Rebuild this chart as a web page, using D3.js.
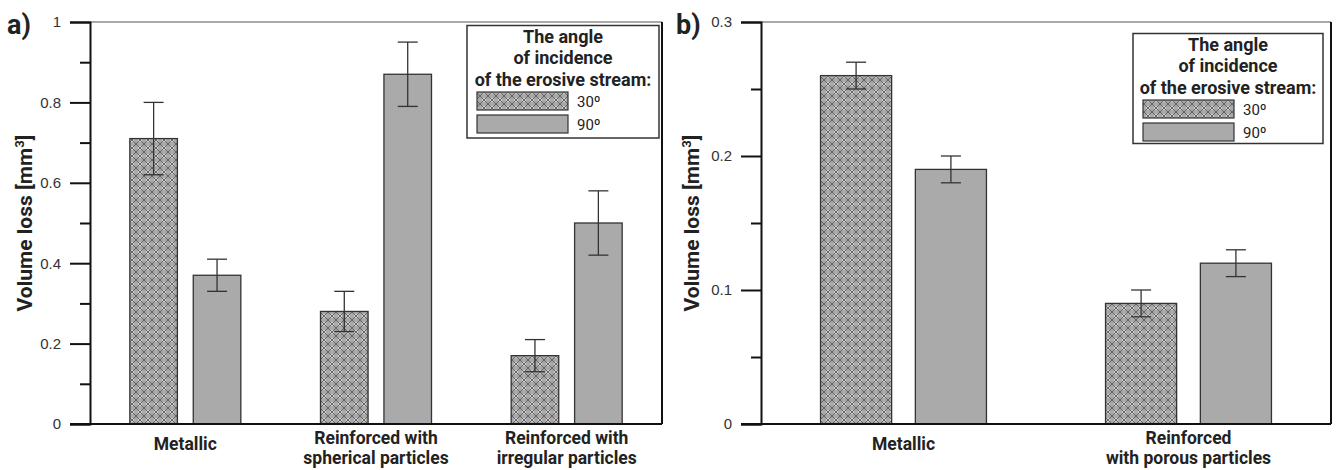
<!DOCTYPE html>
<html>
<head>
<meta charset="utf-8">
<script src="https://cdn.jsdelivr.net/npm/d3@7"></script>
<style>
  html, body { margin: 0; padding: 0; background: #fff; }
  svg { display: block; }
</style>
</head>
<body>
<svg id="chart" width="1338" height="470"></svg>
<script>
// ---------- DATA ----------
const seriesNames = ["30º", "90º"];
const legendTitle = ["The angle", "of incidence", "of the erosive stream:"];
const yTitle = "Volume loss [mm";

// Panel a
const categoriesA = [["Metallic"], ["Reinforced with", "spherical particles"], ["Reinforced with", "irregular particles"]];
const valuesA30 = [0.71, 0.28, 0.17];
const errorsA30 = [0.09, 0.05, 0.04];
const valuesA90 = [0.37, 0.87, 0.50];
const errorsA90 = [0.04, 0.08, 0.08];
const majorTicksA = [0, 0.2, 0.4, 0.6, 0.8, 1];
const minorTicksA = [0.1, 0.3, 0.5, 0.7, 0.9];
const tickLabelsA = ["0", "0.2", "0.4", "0.6", "0.8", "1"];

// Panel b
const categoriesB = [["Metallic"], ["Reinforced", "with porous particles"]];
const valuesB30 = [0.26, 0.09];
const errorsB30 = [0.01, 0.01];
const valuesB90 = [0.19, 0.12];
const errorsB90 = [0.01, 0.01];
const majorTicksB = [0, 0.1, 0.2, 0.3];
const minorTicksB = [0.05, 0.15, 0.25];
const tickLabelsB = ["0", "0.1", "0.2", "0.3"];

// ---------- DRAW ----------
const svg = d3.select("#chart");
const defs = svg.append("defs");

// crosshatch / diamond pattern for 30º
const pat = defs.append("pattern")
  .attr("id", "hatch").attr("patternUnits", "userSpaceOnUse")
  .attr("width", 8).attr("height", 8);
pat.append("rect").attr("width", 8).attr("height", 8).attr("fill", "#a8a8a8");
pat.append("circle").attr("cx", 4).attr("cy", 4).attr("r", 2.3).attr("fill", "#d0d0d0");
pat.append("path").attr("d", "M0,0 L8,8 M8,0 L0,8")
  .attr("stroke", "#5a5a5a").attr("stroke-width", 0.9).attr("fill", "none");
pat.append("path").attr("d", "M-1,7 L1,9 M7,-1 L9,1 M-1,1 L1,-1 M7,9 L9,7")
  .attr("stroke", "#5a5a5a").attr("stroke-width", 0.9).attr("fill", "none");

const fills = ["url(#hatch)", "#aaaaaa"];
const font = "Roboto, 'Liberation Sans', Arial, sans-serif";
const tickFont = "'Liberation Sans', Arial, sans-serif";

function drawPanel(cfg) {
  const g = svg.append("g");
  const y = d3.scaleLinear().domain([0, cfg.yMax]).range([424, 22]);
  const x0 = d3.scaleBand().domain(cfg.categories.map((d, i) => i)).range([cfg.left, cfg.right]);
  const x1 = d3.scaleBand().domain(seriesNames).range([0, x0.bandwidth()])
    .paddingInner(0.25).paddingOuter(0.628);

  // top border
  g.append("line").attr("x1", cfg.left).attr("x2", cfg.right)
    .attr("y1", y(cfg.yMax)).attr("y2", y(cfg.yMax))
    .attr("stroke", "#555").attr("stroke-width", 1.2);
  // right border
  g.append("line").attr("x1", cfg.right).attr("x2", cfg.right)
    .attr("y1", y(cfg.yMax)).attr("y2", y(0))
    .attr("stroke", "#111").attr("stroke-width", 2);

  // y axis major
  const yAxis = d3.axisLeft(y).tickValues(cfg.majorTicks).tickSize(20).tickPadding(9)
    .tickFormat((d, i) => cfg.tickLabels[i]);
  const ya = g.append("g").attr("transform", `translate(${cfg.left},0)`).call(yAxis);
  ya.select(".domain").attr("stroke", "#111").attr("stroke-width", 2);
  ya.selectAll(".tick line").attr("stroke", "#111").attr("stroke-width", 2);
  ya.selectAll(".tick text").attr("font-family", tickFont).attr("font-size", 15).attr("fill", "#333");
  // minor ticks
  const ym = d3.axisLeft(y).tickValues(cfg.minorTicks).tickSize(10).tickFormat("");
  const ymg = g.append("g").attr("transform", `translate(${cfg.left},0)`).call(ym);
  ymg.select(".domain").remove();
  ymg.selectAll(".tick line").attr("stroke", "#111").attr("stroke-width", 2);

  // bars
  cfg.categories.forEach((cat, i) => {
    const gx = x0(i);
    [[cfg.v30, cfg.e30], [cfg.v90, cfg.e90]].forEach(([vals, errs], s) => {
      const v = vals[i], e = errs[i];
      const bx = gx + x1(seriesNames[s]);
      const bw = x1.bandwidth();
      g.append("rect").attr("x", bx).attr("y", y(v))
        .attr("width", bw).attr("height", y(0) - y(v))
        .attr("fill", fills[s]).attr("stroke", "#333").attr("stroke-width", 1.3);
      const cx = bx + bw / 2;
      const eg = g.append("g").attr("stroke", "#333").attr("stroke-width", 1.3);
      eg.append("line").attr("x1", cx).attr("x2", cx).attr("y1", y(v - e)).attr("y2", y(v + e));
      eg.append("line").attr("x1", cx - 10).attr("x2", cx + 10).attr("y1", y(v - e)).attr("y2", y(v - e));
      eg.append("line").attr("x1", cx - 10).attr("x2", cx + 10).attr("y1", y(v + e)).attr("y2", y(v + e));
    });
    // category label (one text element per line)
    const cx = gx + x0.bandwidth() / 2;
    const lines = cat.length === 1 ? [[cat[0], 450]] : [[cat[0], 444], [cat[1], 464]];
    lines.forEach(([txt, ty]) => {
      g.append("text").attr("text-anchor", "middle").attr("x", cx).attr("y", ty)
        .attr("font-family", font).attr("font-weight", "bold").attr("font-size", 17.5)
        .attr("fill", "#222").text(txt);
    });
  });

  // x axis line
  g.append("line").attr("x1", cfg.left - 20).attr("x2", cfg.right)
    .attr("y1", y(0)).attr("y2", y(0)).attr("stroke", "#111").attr("stroke-width", 2);

  // y title
  const yt = g.append("text")
    .attr("transform", `translate(${cfg.titleX},${(y(0) + y(cfg.yMax)) / 2}) rotate(-90)`)
    .attr("text-anchor", "middle").attr("font-family", font).attr("font-weight", "bold")
    .attr("font-size", 21).attr("fill", "#222");
  yt.append("tspan").text(yTitle);
  yt.append("tspan").attr("font-size", 13).attr("dy", -8).text("3");
  yt.append("tspan").attr("dy", 8).text("]");

  // panel letter
  g.append("text").attr("x", cfg.letterX).attr("y", 34)
    .attr("font-family", font).attr("font-weight", "bold").attr("font-size", 27).attr("fill", "#222")
    .text(cfg.letter);

  // legend
  const L = cfg.legend;
  g.append("rect").attr("x", L.x).attr("y", L.y).attr("width", L.w).attr("height", L.h)
    .attr("fill", "#fff").attr("stroke", "#333").attr("stroke-width", 1.5);
  legendTitle.forEach((line, k) => {
    g.append("text").attr("x", L.x + L.w / 2).attr("y", L.y + 17 + k * 21.5)
      .attr("text-anchor", "middle").attr("font-family", font).attr("font-weight", "bold")
      .attr("font-size", 18).attr("fill", "#222").text(line);
  });
  seriesNames.forEach((s, k) => {
    const sy = L.y + 66.5 + k * 23;
    g.append("rect").attr("x", L.x + 10).attr("y", sy).attr("width", 91).attr("height", 18)
      .attr("fill", fills[k]).attr("stroke", "#333").attr("stroke-width", 1.2);
    g.append("text").attr("x", L.x + 110).attr("y", sy + 14.5)
      .attr("font-family", font).attr("font-size", 15).attr("fill", "#222").text(s);
  });
}

drawPanel({
  categories: categoriesA, v30: valuesA30, e30: errorsA30, v90: valuesA90, e90: errorsA90,
  yMax: 1, majorTicks: majorTicksA, minorTicks: minorTicksA, tickLabels: tickLabelsA,
  left: 90, right: 662, titleX: 32, letter: "a)", letterX: 7,
  legend: { x: 467, y: 25.5, w: 192, h: 112.5 }
});

drawPanel({
  categories: categoriesB, v30: valuesB30, e30: errorsB30, v90: valuesB90, e90: errorsB90,
  yMax: 0.3, majorTicks: majorTicksB, minorTicks: minorTicksB, tickLabels: tickLabelsB,
  left: 761, right: 1331, titleX: 699, letter: "b)", letterX: 676,
  legend: { x: 1133, y: 33.5, w: 190, h: 110 }
});
</script>
</body>
</html>
